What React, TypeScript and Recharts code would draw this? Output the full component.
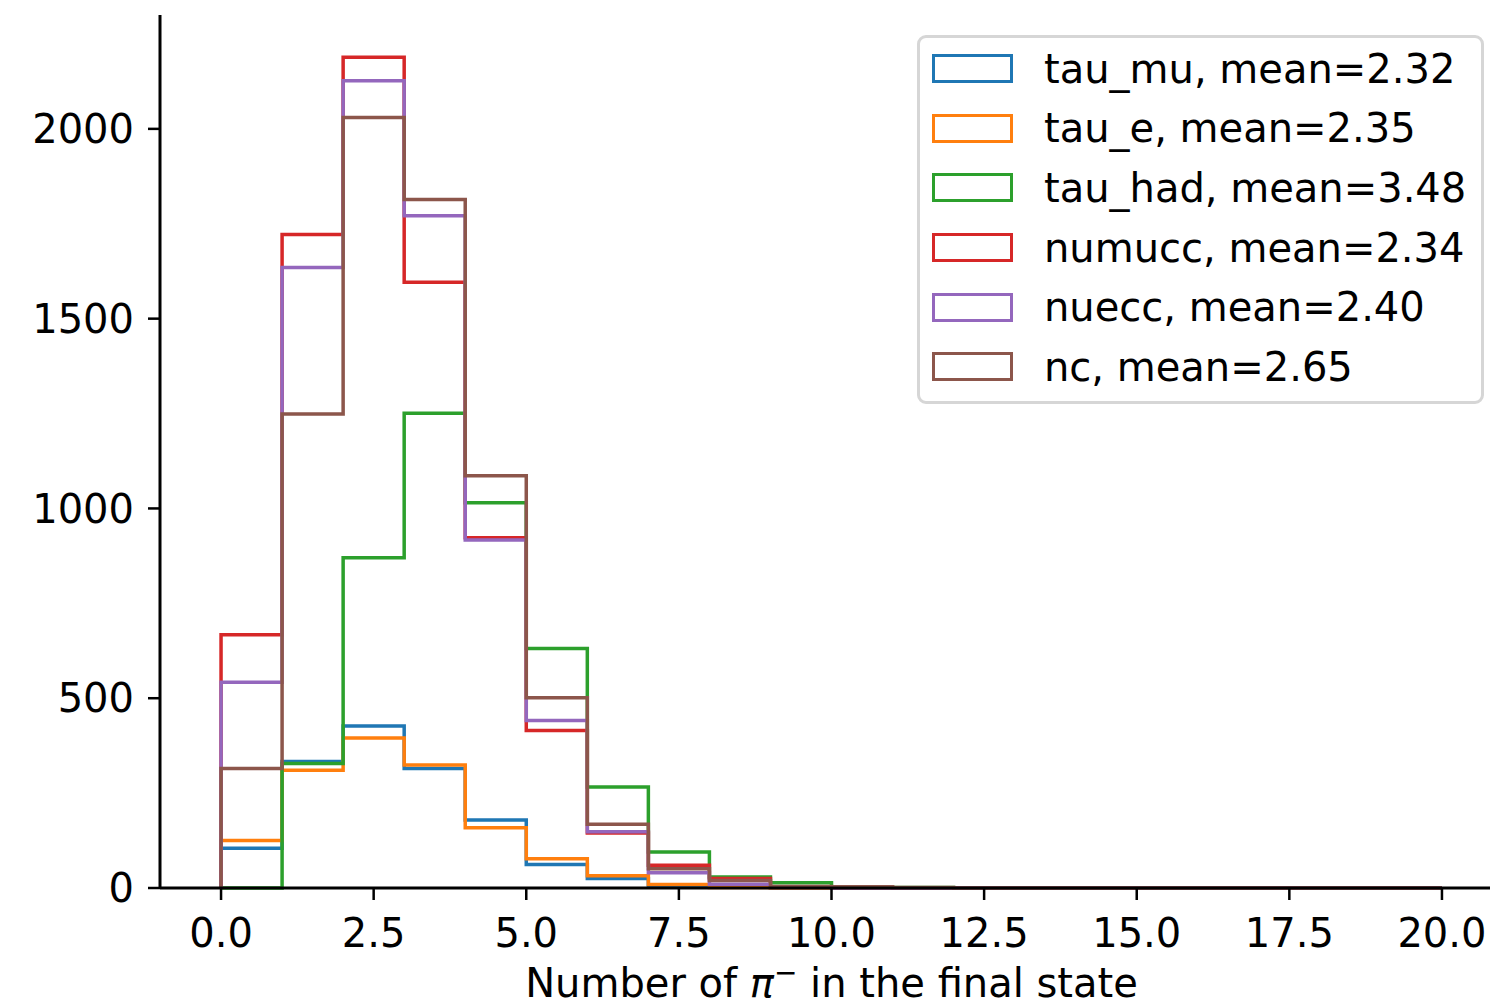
import React from 'react';
import { ComposedChart, Line, XAxis, YAxis, Legend, Label } from 'recharts';

const binEdges = [0, 1, 2, 3, 4, 5, 6, 7, 8, 9, 10, 11, 12, 13, 14, 15, 16, 17, 18, 19, 20];

const tauMuCounts = [105, 333, 427, 315, 179, 62, 25, 6, 2, 1, 0, 0, 0, 0, 0, 0, 0, 0, 0, 0];
const tauECounts = [125, 310, 395, 324, 159, 77, 32, 9, 1, 0, 0, 0, 0, 0, 0, 0, 0, 0, 0, 0];
const tauHadCounts = [0, 328, 870, 1251, 1015, 631, 266, 95, 29, 14, 2, 1, 0, 0, 0, 0, 0, 0, 0, 0];
const numuccCounts = [667, 1722, 2189, 1596, 923, 415, 145, 60, 25, 2, 1, 0, 0, 0, 0, 0, 0, 0, 0, 0];
const nueccCounts = [542, 1635, 2127, 1771, 917, 441, 148, 40, 10, 1, 0, 0, 0, 0, 0, 0, 0, 0, 0, 0];
const ncCounts = [315, 1249, 2030, 1814, 1086, 501, 168, 51, 20, 4, 3, 1, 0, 0, 0, 0, 0, 0, 0, 0];

const seriesNames = ['tau_mu', 'tau_e', 'tau_had', 'numucc', 'nuecc', 'nc'];
const seriesMeans = ['2.32', '2.35', '3.48', '2.34', '2.40', '2.65'];
const seriesColors = ['#1f77b4', '#ff7f0e', '#2ca02c', '#d62728', '#9467bd', '#8c564b'];
const seriesCounts = [tauMuCounts, tauECounts, tauHadCounts, numuccCounts, nueccCounts, ncCounts];

const xTicks = [0, 2.5, 5, 7.5, 10, 12.5, 15, 17.5, 20];
const yTicks = [0, 500, 1000, 1500, 2000];
const xDomain = [-1, 21];
const yDomain = [0, 2300];

const FONT = '"DejaVu Sans", sans-serif';

function toStepData(counts: number[]) {
  const pts: { x: number; y: number }[] = [{ x: binEdges[0], y: 0 }];
  counts.forEach((c, i) => pts.push({ x: binEdges[i], y: c }));
  pts.push({ x: binEdges[counts.length], y: 0 });
  return pts;
}

const renderLegend = () => (
  <div
    style={{
      boxSizing: 'border-box',
      width: 567,
      height: 369,
      border: '3px solid #d6d6d6',
      borderRadius: 9,
      background: 'rgba(255,255,255,0.8)',
      paddingTop: 1,
      fontFamily: FONT,
      fontSize: 40,
      color: '#000',
    }}
  >
    {seriesNames.map((name, i) => (
      <div key={name} style={{ display: 'flex', alignItems: 'center', height: 59.6 }}>
        <div
          style={{
            marginLeft: 12,
            width: 81,
            height: 29,
            boxSizing: 'border-box',
            border: `3.5px solid ${seriesColors[i]}`,
            flex: '0 0 auto',
          }}
        />
        <span style={{ marginLeft: 31, whiteSpace: 'nowrap', lineHeight: 'normal' }}>
          {name}, mean={seriesMeans[i]}
        </span>
      </div>
    ))}
  </div>
);

const XLabelContent = (props: any) => {
  const vb = props.viewBox || {};
  const cx = vb.x + vb.width / 2;
  return (
    <text x={cx} y={997} textAnchor="middle" fontFamily={FONT} fontSize={40} fill="#000">
      <tspan>Number of </tspan>
      <tspan fontStyle="italic">π</tspan>
      <tspan fontSize={28} dy={-15}>−</tspan>
      <tspan dy={15}> in the final state</tspan>
    </text>
  );
};

export default function App() {
  const tickStyle = { fill: '#000', fontSize: 40, fontFamily: FONT };
  const tickLine = { stroke: '#000', strokeWidth: 2.5 };
  const axisLine = { stroke: '#000', strokeWidth: 3 };
  return (
    <div
      style={{
        position: 'absolute',
        left: 0,
        top: 0,
        width: 1490,
        height: 1006,
        overflow: 'hidden',
        background: '#fff',
      }}
    >
      <ComposedChart
        width={1520}
        height={1006}
        margin={{ top: 15, right: 17, left: 0, bottom: 0 }}
        style={{ fontFamily: FONT }}
      >
        <XAxis
          xAxisId="main"
          type="number"
          dataKey="x"
          domain={xDomain}
          ticks={xTicks}
          interval={0}
          allowDuplicatedCategory
          tickFormatter={(v: number) => v.toFixed(1)}
          tick={tickStyle}
          tickLine={tickLine}
          axisLine={axisLine}
          tickSize={12}
          tickMargin={19}
          height={118}
        >
          <Label content={<XLabelContent />} />
        </XAxis>
        <XAxis
          xAxisId="top"
          orientation="top"
          type="number"
          dataKey="x"
          domain={xDomain}
          tick={false}
          tickLine={false}
          axisLine={axisLine}
          height={0}
        />
        <YAxis
          yAxisId="main"
          type="number"
          domain={yDomain}
          ticks={yTicks}
          interval={0}
          tick={tickStyle}
          tickLine={tickLine}
          axisLine={axisLine}
          tickSize={12}
          tickMargin={14}
          width={160}
        />
        {seriesNames.map((name, i) => (
          <Line
            key={name}
            xAxisId="main"
            yAxisId="main"
            data={toStepData(seriesCounts[i])}
            dataKey="y"
            name={name}
            type="stepAfter"
            stroke={seriesColors[i]}
            strokeWidth={3.5}
            strokeLinejoin="miter"
            strokeLinecap="butt"
            dot={false}
            activeDot={false}
            isAnimationActive={false}
          />
        ))}
        <Legend
          layout="vertical"
          align="center"
          verticalAlign="middle"
          content={renderLegend}
          wrapperStyle={{ left: 917, top: 35, width: 567, height: 369 }}
        />
      </ComposedChart>
    </div>
  );
}
